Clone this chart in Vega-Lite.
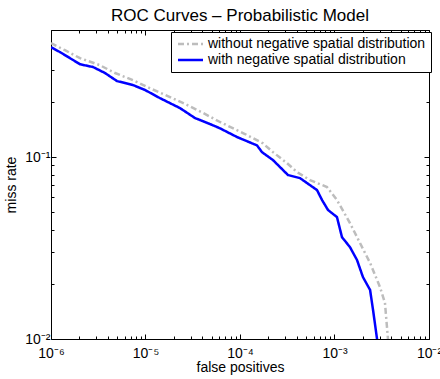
{
  "$schema": "https://vega.github.io/schema/vega-lite/v6.json",
  "width": 378,
  "height": 309,
  "autosize": {"type": "none"},
  "padding": {"left": 51, "top": 30, "right": 11, "bottom": 40},
  "background": "white",
  "title": {"text": "ROC Curves – Probabilistic Model", "fontSize": 17, "font": "Liberation Sans", "fontWeight": "normal", "color": "black", "offset": -2, "anchor": "middle"},
  "config": {
    "view": {"stroke": "black", "strokeWidth": 1},
    "font": "Liberation Sans",
    "axis": {"domain": false, "grid": false, "tickColor": "black", "tickWidth": 1, "labelColor": "black", "labelFontSize": 14, "titleColor": "black", "titleFontSize": 14, "titleFontWeight": "normal", "labelOverlap": false, "labelFlush": false, "labelFont": "Liberation Sans", "titleFont": "Liberation Sans"}
  },
  "data": {"values": [
    {"series": "with negative spatial distribution", "fp": 1e-6, "mr": 0.402},
    {"series": "with negative spatial distribution", "fp": 1.245e-6, "mr": 0.378},
    {"series": "with negative spatial distribution", "fp": 1.589e-6, "mr": 0.350},
    {"series": "with negative spatial distribution", "fp": 2.028e-6, "mr": 0.324},
    {"series": "with negative spatial distribution", "fp": 2.78e-6, "mr": 0.313},
    {"series": "with negative spatial distribution", "fp": 3.725e-6, "mr": 0.290},
    {"series": "with negative spatial distribution", "fp": 4.99e-6, "mr": 0.262},
    {"series": "with negative spatial distribution", "fp": 7.374e-6, "mr": 0.249},
    {"series": "with negative spatial distribution", "fp": 9.88e-6, "mr": 0.234},
    {"series": "with negative spatial distribution", "fp": 1.423e-5, "mr": 0.211},
    {"series": "with negative spatial distribution", "fp": 2.316e-5, "mr": 0.186},
    {"series": "with negative spatial distribution", "fp": 3.341e-5, "mr": 0.164},
    {"series": "with negative spatial distribution", "fp": 4.82e-5, "mr": 0.152},
    {"series": "with negative spatial distribution", "fp": 6.14e-5, "mr": 0.144},
    {"series": "with negative spatial distribution", "fp": 9.29e-5, "mr": 0.129},
    {"series": "with negative spatial distribution", "fp": 1.513e-4, "mr": 0.116},
    {"series": "with negative spatial distribution", "fp": 1.71e-4, "mr": 0.1065},
    {"series": "with negative spatial distribution", "fp": 2.235e-4, "mr": 0.0963},
    {"series": "with negative spatial distribution", "fp": 3.22e-4, "mr": 0.0797},
    {"series": "with negative spatial distribution", "fp": 4.31e-4, "mr": 0.0767},
    {"series": "with negative spatial distribution", "fp": 6.53e-4, "mr": 0.0659},
    {"series": "with negative spatial distribution", "fp": 7.38e-4, "mr": 0.0581},
    {"series": "with negative spatial distribution", "fp": 8.54e-4, "mr": 0.0512},
    {"series": "with negative spatial distribution", "fp": 1.062e-3, "mr": 0.0468},
    {"series": "with negative spatial distribution", "fp": 1.2e-3, "mr": 0.0363},
    {"series": "with negative spatial distribution", "fp": 1.458e-3, "mr": 0.032},
    {"series": "with negative spatial distribution", "fp": 1.73e-3, "mr": 0.0272},
    {"series": "with negative spatial distribution", "fp": 2.0e-3, "mr": 0.0219},
    {"series": "with negative spatial distribution", "fp": 2.38e-3, "mr": 0.0186},
    {"series": "with negative spatial distribution", "fp": 2.56e-3, "mr": 0.0144},
    {"series": "with negative spatial distribution", "fp": 2.82e-3, "mr": 0.0100},
    {"series": "with negative spatial distribution", "fp": 2.84e-3, "mr": 0.009},
    {"series": "without negative spatial distribution", "fp": 1e-6, "mr": 0.423},
    {"series": "without negative spatial distribution", "fp": 1.406e-6, "mr": 0.387},
    {"series": "without negative spatial distribution", "fp": 2.028e-6, "mr": 0.350},
    {"series": "without negative spatial distribution", "fp": 3.3e-6, "mr": 0.320},
    {"series": "without negative spatial distribution", "fp": 4.76e-6, "mr": 0.290},
    {"series": "without negative spatial distribution", "fp": 7.37e-6, "mr": 0.265},
    {"series": "without negative spatial distribution", "fp": 1.117e-5, "mr": 0.239},
    {"series": "without negative spatial distribution", "fp": 1.817e-5, "mr": 0.214},
    {"series": "without negative spatial distribution", "fp": 2.62e-5, "mr": 0.196},
    {"series": "without negative spatial distribution", "fp": 4.06e-5, "mr": 0.175},
    {"series": "without negative spatial distribution", "fp": 6.14e-5, "mr": 0.156},
    {"series": "without negative spatial distribution", "fp": 1.129e-4, "mr": 0.134},
    {"series": "without negative spatial distribution", "fp": 1.75e-4, "mr": 0.119},
    {"series": "without negative spatial distribution", "fp": 2.235e-4, "mr": 0.1065},
    {"series": "without negative spatial distribution", "fp": 3.14e-4, "mr": 0.0927},
    {"series": "without negative spatial distribution", "fp": 4.01e-4, "mr": 0.0828},
    {"series": "without negative spatial distribution", "fp": 5.5e-4, "mr": 0.0748},
    {"series": "without negative spatial distribution", "fp": 8.33e-4, "mr": 0.0685},
    {"series": "without negative spatial distribution", "fp": 1.062e-3, "mr": 0.0581},
    {"series": "without negative spatial distribution", "fp": 1.458e-3, "mr": 0.0434},
    {"series": "without negative spatial distribution", "fp": 1.862e-3, "mr": 0.0337},
    {"series": "without negative spatial distribution", "fp": 2.38e-3, "mr": 0.0262},
    {"series": "without negative spatial distribution", "fp": 3.03e-3, "mr": 0.0193},
    {"series": "without negative spatial distribution", "fp": 3.42e-3, "mr": 0.0158},
    {"series": "without negative spatial distribution", "fp": 3.68e-3, "mr": 0.0100},
    {"series": "without negative spatial distribution", "fp": 3.7e-3, "mr": 0.009}
  ]},
  "layer": [
    {
      "mark": {"type": "line", "clip": true, "strokeWidth": 2.5},
      "encoding": {
        "x": {"field": "fp", "type": "quantitative", "scale": {"type": "log", "domain": [1e-6, 1e-2], "nice": false},
          "axis": {"orient": "bottom", "title": "false positives", "titlePadding": -2,
            "values": [1e-6, 2e-6, 3e-6, 4e-6, 5e-6, 6e-6, 7e-6, 8e-6, 9e-6, 1e-5, 2e-5, 3e-5, 4e-5, 5e-5, 6e-5, 7e-5, 8e-5, 9e-5, 1e-4, 2e-4, 3e-4, 4e-4, 5e-4, 6e-4, 7e-4, 8e-4, 9e-4, 1e-3, 2e-3, 3e-3, 4e-3, 5e-3, 6e-3, 7e-3, 8e-3, 9e-3, 1e-2],
            "labelExpr": "abs(log(datum.value)/LN10 - round(log(datum.value)/LN10)) > 0.001 ? '' : ['10⁻⁶','10⁻⁵','10⁻⁴','10⁻³','10⁻²','10⁻¹'][round(log(datum.value)/LN10)+6]",
            "tickSize": {"condition": {"test": "abs(log(datum.value)/LN10 - round(log(datum.value)/LN10)) < 0.001", "value": -5}, "value": -3},
            "labelPadding": 12}},
        "y": {"field": "mr", "type": "quantitative", "scale": {"type": "log", "domain": [0.01, 0.5], "nice": false},
          "axis": {"orient": "left", "title": "miss rate", "titlePadding": 6,
            "values": [0.01, 0.02, 0.03, 0.04, 0.05, 0.06, 0.07, 0.08, 0.09, 0.1, 0.2, 0.3, 0.4, 0.5],
            "labelExpr": "abs(log(datum.value)/LN10 - round(log(datum.value)/LN10)) > 0.001 ? '' : ['10⁻⁶','10⁻⁵','10⁻⁴','10⁻³','10⁻²','10⁻¹'][round(log(datum.value)/LN10)+6]",
            "tickSize": {"condition": {"test": "abs(log(datum.value)/LN10 - round(log(datum.value)/LN10)) < 0.001", "value": -5}, "value": -3},
            "labelPadding": 6}},
        "color": {"field": "series", "type": "nominal",
          "scale": {"domain": ["without negative spatial distribution", "with negative spatial distribution"], "range": ["#bdbdbd", "#0000ff"]},
          "legend": {"title": null, "orient": "none", "legendX": 120, "legendY": 2, "fillColor": "white", "strokeColor": "black", "padding": 5, "labelFontSize": 14, "labelColor": "black", "labelFont": "Liberation Sans", "symbolType": "M-1,0H4", "symbolSize": 100, "symbolStrokeWidth": 2.5, "labelOffset": 18, "rowPadding": 2, "cornerRadius": 0, "labelLimit": 0}},
        "strokeDash": {"field": "series", "type": "nominal",
          "scale": {"domain": ["without negative spatial distribution", "with negative spatial distribution"], "range": [[6, 3, 2, 3], [1, 0]]},
          "legend": {"title": null, "orient": "none", "legendX": 120, "legendY": 2, "fillColor": "white", "strokeColor": "black", "padding": 5, "labelFontSize": 14, "labelColor": "black", "labelFont": "Liberation Sans", "symbolType": "M-1,0H4", "symbolSize": 100, "symbolStrokeWidth": 2.5, "labelOffset": 18, "rowPadding": 2, "cornerRadius": 0, "labelLimit": 0}}
      }
    },
    {
      "mark": {"type": "line", "opacity": 0},
      "encoding": {
        "x": {"field": "fp", "type": "quantitative",
          "axis": {"orient": "top", "title": null, "labels": false,
            "values": [1e-6, 2e-6, 3e-6, 4e-6, 5e-6, 6e-6, 7e-6, 8e-6, 9e-6, 1e-5, 2e-5, 3e-5, 4e-5, 5e-5, 6e-5, 7e-5, 8e-5, 9e-5, 1e-4, 2e-4, 3e-4, 4e-4, 5e-4, 6e-4, 7e-4, 8e-4, 9e-4, 1e-3, 2e-3, 3e-3, 4e-3, 5e-3, 6e-3, 7e-3, 8e-3, 9e-3, 1e-2],
            "tickSize": {"condition": {"test": "abs(log(datum.value)/LN10 - round(log(datum.value)/LN10)) < 0.001", "value": -5}, "value": -3}}},
        "y": {"field": "mr", "type": "quantitative",
          "axis": {"orient": "right", "title": null, "labels": false,
            "values": [0.01, 0.02, 0.03, 0.04, 0.05, 0.06, 0.07, 0.08, 0.09, 0.1, 0.2, 0.3, 0.4, 0.5],
            "tickSize": {"condition": {"test": "abs(log(datum.value)/LN10 - round(log(datum.value)/LN10)) < 0.001", "value": -5}, "value": -3}}},
        "detail": {"field": "series", "type": "nominal"}
      }
    }
  ],
  "resolve": {"axis": {"x": "independent", "y": "independent"}}
}
